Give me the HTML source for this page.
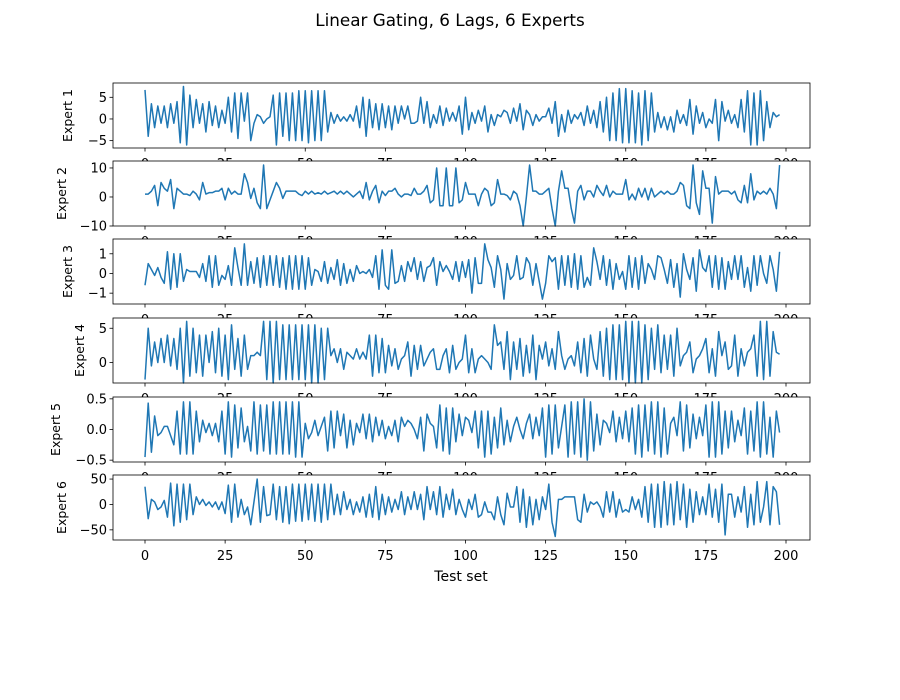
<!DOCTYPE html>
<html><head><meta charset="utf-8"><style>
body{margin:0;background:#fff;}
svg text{font-family:"DejaVu Sans","Liberation Sans",sans-serif;fill:#000;}
</style></head><body>
<svg id="chart" width="900" height="695" xmlns="http://www.w3.org/2000/svg">
<rect width="900" height="695" fill="#fff"/>
<text x="450" y="26" font-size="16.8" text-anchor="middle">Linear Gating, 6 Lags, 6 Experts</text>
<text x="461" y="581" font-size="14" text-anchor="middle">Test set</text>
</svg>
<script>
const xTicks=[0,25,50,75,100,125,150,175,200];
const expertNames=["Expert 1","Expert 2","Expert 3","Expert 4","Expert 5","Expert 6"];
const yTicks1=[-5,0,5];
const yTicks2=[-10,0,10];
const yTicks3=[-1,0,1];
const yTicks4=[0,5];
const yTicks5=[-0.5,0.0,0.5];
const yTicks6=[-50,0,50];
const yTickLabels5=["−0.5","0.0","0.5"];
const series1=[6.7,-4,3.5,-2,3,-1,3,-2,3.5,-1,4,-5.5,7.5,-6,5.5,-2,4.5,-1,3.5,-3,4,-1.5,3,-2,2,-1,5,-3,6,-4.5,6,-0.5,6,-5,-1,1,0.5,-1,0,0.5,5.5,-6,6,-4,6,-5,6,-5,6.5,-5,6.5,-5.5,6.5,-5,6.5,-5,6.5,-3,1.5,-1,1,-0.5,0.5,-0.5,1,-0.5,3,-2,5,-4,4.5,-2,3.5,-2.5,3.5,-2,3,-2.5,3,-1,3,0,3,-1,-1,-0.5,5,-1,4,-2,1,-1,3,-1.5,2.5,-0.5,1.5,-0.5,3,-3.5,5,-2.5,1.5,-1,2,-0.5,3,-3,1,-1.5,1,0.5,2,1.5,-1,2.5,-0.5,3.5,-2.5,2,1,-1.5,1,-0.5,0.5,0.5,2.5,-1,4,-4,1,-3,2,-1,1,0,1.5,-1.5,3,-1,2,-2,4,-3,5,-5,6,-5,7,-5.5,7,-5.5,6.5,-5.5,6,-6,6.5,-5,6,-3,1.5,-2,0.5,-2.5,0.5,-3,2,-1,1,-1.5,4.5,-3.5,3,-1,1.5,-2,0,-1,4.5,-5,4,-0.5,2,-1,1,-2,4.5,-3,6.5,-6,6,-6,6.5,-5,4,-2,1.5,0.5,1];
const series2=[1,1,2,4,-3,5,3,2,6,-4,3,2,1,1,0.5,2,1,-1,5,1,1.5,1.5,2,2,3,-1,3,1,2,1,1,8,5,-0.5,3,-2,-4,11,-4,-1,2,5,3,-0.5,2,2,2,2,1,0.5,2,1,2,1,1.5,1,2,1,1.5,2,1,2,1,2,1,0,1,2,-0.5,5,-1,2,4,-2,2,0.5,2,2,3,1,0,1,1,0.5,3,1,1,2,4,-2,-1,10,-3,-3,10,-3,-3,10,-2,-1,5,1,1,1,-3,1,3,2,-3,-2,6,1,1,0.5,-1,2,1,-3,-10,0,11,2,2,1,1,2,3,-4,-10,2,9,3,3,-4,-9,2,4,-1,2,2,0,4,2,0.5,4,0,2,1,1,1,6,-1,1,-1,3,0,3,-1,3,0,1,2,1,2,1,1,2,5,4,-3,-4,11,-2,-6,9,3,3,-9,7,1,2,2,2,1,2,-1,-2,4,-2,8,-1,2,1,2,1,3,1,-4,11];
const series3=[-0.6,0.5,0.2,-0.1,0.3,-0.2,-0.5,1.1,-0.8,1,-0.7,1,-0.4,0.2,0.1,0.1,0.1,-0.2,0.5,-0.4,0.9,-0.7,0.9,-0.6,-0.1,-0.3,0.4,-0.6,1.3,0.3,-0.6,1.5,-0.6,0.6,-0.5,0.8,-0.7,0.9,-0.6,0.9,-0.6,0.9,-0.7,0.8,-0.8,0.9,-0.8,0.9,-0.8,0.9,-0.8,0.8,-0.6,0.2,0.1,-0.4,0.6,-0.5,0.3,-0.3,0.7,-0.6,0.5,-0.5,0.2,-0.4,0.4,0,0.1,0,0.2,-0.2,0.9,-0.8,1.2,-0.6,-0.8,1.2,-0.5,-0.4,0.4,-0.4,0.6,0.1,0.8,-0.3,0.6,-0.4,0.3,0.4,0.8,-0.6,0.6,0.1,0.4,0.1,-0.3,0.6,-0.4,0.6,-0.2,0.7,-1,0.8,-0.5,-0.5,1.5,0.7,0.3,-0.7,0.9,0.2,-1.3,0.5,-0.3,-0.1,0.9,-0.3,-0.2,0.8,0.5,-0.6,0.5,-0.4,-1.3,-0.5,0.9,0.6,0.8,-0.8,0.9,-0.6,0.9,-0.7,1,-0.8,0.9,-0.7,-0.2,-0.6,1.3,0.6,-0.3,0.9,-0.6,0.7,-0.8,0.5,-0.3,0.1,-0.8,0.9,-0.7,0.8,-0.8,0.9,-0.5,0.5,0.2,-0.3,0.9,0.8,0.2,-0.5,0.7,-0.7,0.5,-1.2,1,0.2,-0.3,0.8,-0.9,1.2,0.3,0.1,0.9,-0.7,0.9,-0.8,0.8,-0.8,0.6,-0.3,0.9,-0.3,0.9,-0.7,0.3,-0.9,0.9,-0.6,0.9,0,-0.5,0.9,0.2,-0.9,1.1];
const series4=[-2.5,5,-0.5,3,0,3.5,0,4,-0.5,3.5,-1,5,-3,6,-2,5,-1.5,4,-2,4,0,4.5,-1.5,5,-2,4,-2.5,5.5,-1,3.5,-2,4,-1,1,1,1.5,1,6,-2.5,6,-3,6,-2.5,5.5,-2.5,5.5,-2.5,5.5,-2.5,5.5,-2.5,5.5,-3,5.5,-3,5,-2.5,5,1,2,0,2,-1,1.5,1,0.5,2,0.5,1.5,0.5,4,-2,4,-1.5,3.5,-1.5,2.5,-0.5,2,-1,0.5,1,3,-2,2.5,-1,2.5,-0.5,0.5,1.5,2,-1,-1,1,2,-1.5,2.5,-1,0,0.5,4,-1.5,2,-1.5,0.5,1,0.5,0,-1,5.5,2.5,3,-1,4.5,-2.5,3,-1,3.5,-2,2.5,-1.5,4,-2.5,2.5,0.5,3,-0.5,2,-1,4.5,1,-1,0.5,1,-0.5,3,-1.5,3.5,-2,4,0.5,-1,4.5,-2,5,-2.5,5.5,-2.5,5.5,-2.5,6,-3,6,-3,6,-3,5.5,-2.5,5,-1,5.5,-1.5,4,-1,4,-2,5,-0.5,1,1.5,3,-1.5,0.5,1,2,3.5,-1.5,2,-2,4.5,1,3,-1,-0.5,4,-2,2,-0.5,1.5,2,4,-2,6,-2.5,6,-2,4.5,1.5,1.2];
const series5=[-0.45,0.43,-0.37,0.22,-0.1,-0.05,0.05,0.05,-0.1,-0.25,0.3,-0.4,0.45,-0.4,0.45,-0.4,0.3,-0.2,0.15,-0.05,0.1,-0.1,0.1,-0.2,0.3,-0.4,0.45,-0.45,0.4,-0.3,0.35,-0.2,0.05,-0.35,0.45,-0.4,0.4,-0.35,0.4,-0.4,0.45,-0.4,0.45,-0.4,0.45,-0.4,0.45,-0.45,0.45,-0.45,0.1,-0.15,-0.05,0.15,-0.1,0.05,0.2,-0.35,0.3,-0.3,0.3,-0.1,0.25,-0.3,0.15,-0.25,0.1,-0.05,0.25,-0.15,0.25,-0.2,0.2,-0.1,0.15,-0.15,0.05,-0.1,0.15,-0.2,0.2,0.05,0.15,0.1,0,-0.15,0.2,-0.35,0.25,0.1,0.05,-0.3,0.4,-0.35,0.35,-0.4,0.35,-0.2,0.25,-0.1,0.2,0.15,-0.05,0.3,-0.3,0.3,-0.45,0.3,-0.4,0.2,-0.3,0.35,-0.25,0.15,-0.2,0.05,0.2,0,-0.15,0.1,0.25,-0.15,0.2,-0.1,0.35,-0.45,0.4,-0.4,0.4,-0.3,0.05,0.4,-0.45,0.45,-0.4,0.45,-0.45,0.5,-0.5,0.45,-0.35,0.25,-0.25,0.15,0.1,-0.05,0.3,-0.2,0.2,-0.15,0.3,-0.2,0.35,-0.4,0.4,-0.45,0.4,-0.35,0.45,-0.4,0.45,-0.45,0.35,-0.4,0.1,0.2,-0.1,0.45,-0.35,0.4,-0.3,0.25,-0.15,0.2,-0.1,0.4,-0.45,0.45,-0.45,0.45,-0.4,0.3,-0.3,0.3,-0.2,0.15,-0.1,0.35,-0.4,0.3,-0.35,0.45,-0.45,0.45,-0.4,0.2,-0.45,0.3,-0.05];
const series6=[35,-28,10,5,-10,-5,8,-25,42,-42,40,-35,40,-30,40,-20,15,0,10,-2,5,-5,5,-10,5,-18,38,-35,40,-25,10,-20,-5,-40,5,50,-35,35,-22,-20,40,-30,35,-35,35,-38,40,-33,40,-33,40,-30,40,-33,40,-35,40,-30,40,-20,20,-20,25,-10,10,-20,5,-15,15,-25,20,-25,35,-30,20,-20,15,-15,10,-10,25,-20,15,-10,25,-10,20,-30,35,-10,25,-20,35,-25,20,-10,30,-20,10,-10,-25,10,-10,20,-25,-20,5,-15,-15,-30,15,-20,-40,22,-5,-5,35,-35,30,-45,15,-40,10,-30,15,-10,40,-35,-63,10,10,15,15,15,15,-30,-35,20,-15,5,0,5,-5,-25,25,-15,25,-25,10,-15,-10,-15,15,-10,10,-25,35,-35,40,-45,40,-45,45,-40,40,-40,45,-30,40,-45,30,-35,25,-20,15,-20,40,-25,30,-35,40,-60,20,20,-25,15,-15,35,-45,20,-40,45,-35,-5,45,-40,35,25,-40];

const svg=document.getElementById('chart');
const NS='http://www.w3.org/2000/svg';
const allSeries=[series1,series2,series3,series4,series5,series6];
const allTicks=[yTicks1,yTicks2,yTicks3,yTicks4,yTicks5,yTicks6];
const panelTops=[83,161,239,318,397,475];
const ylims=[[-6.7,8.3],[-10,12.4],[-1.55,1.75],[-3,6.5],[-0.53,0.53],[-70,58]];
const yLabelX=[72,66,72,84,60,66];
const L=113,R=810,H=65;
const xS=v=>145+(v/200)*(786-145);
function fmt(v,i){if(i===4)return yTickLabels5[yTicks5.indexOf(v)];return (v<0?'−':'')+Math.abs(v);}
function mk(tag,attrs){const e=document.createElementNS(NS,tag);for(const k in attrs)e.setAttribute(k,attrs[k]);return e;}
for(let p=0;p<6;p++){
  const top=panelTops[p],bot=top+H,[lo,hi]=ylims[p];
  const yS=v=>bot-(v-lo)/(hi-lo)*H;
  const g=mk('g',{});
  
  
  svg.appendChild(g);
  const bg=mk('rect',{x:L,y:top,width:R-L,height:H,fill:'#fff'});
  
  
  g.appendChild(bg);
  const d=allSeries[p].map((v,i)=>(i?'L':'M')+xS(i).toFixed(2)+' '+yS(v).toFixed(2)).join('');
  const ln=mk('path',{d:d,fill:'none',stroke:'#1f77b4','stroke-width':1.5,'stroke-linejoin':'round'});
  
  
  g.appendChild(ln);
  const fr=mk('rect',{x:L,y:top,width:R-L,height:H,fill:'none',stroke:'#000','stroke-width':0.8});
  
  
  g.appendChild(fr);
  xTicks.forEach(t=>{
    const x=xS(t);
    const tk=mk('line',{x1:x,x2:x,y1:bot,y2:bot+3.5,stroke:'#000','stroke-width':0.8});
    
    
    g.appendChild(tk);
    const tl=mk('text',{x:x,y:bot+20,'font-size':13,'text-anchor':'middle'});
    tl.textContent=t;
    
    
    g.appendChild(tl);
  });
  allTicks[p].forEach(t=>{
    const y=yS(t);
    const tk=mk('line',{x1:L-3.5,x2:L,y1:y,y2:y,stroke:'#000','stroke-width':0.8});
    
    
    g.appendChild(tk);
    const tl=mk('text',{x:L-6,y:y+4.5,'font-size':13,'text-anchor':'end'});
    tl.textContent=fmt(t,p);
    
    
    g.appendChild(tl);
  });
  const yl=mk('text',{x:yLabelX[p],y:top+H/2,'font-size':12.5,'text-anchor':'middle',transform:'rotate(-90 '+yLabelX[p]+' '+(top+H/2)+')'});
  yl.textContent=expertNames[p];
  
  
  g.appendChild(yl);
}
</script>
</body></html>
